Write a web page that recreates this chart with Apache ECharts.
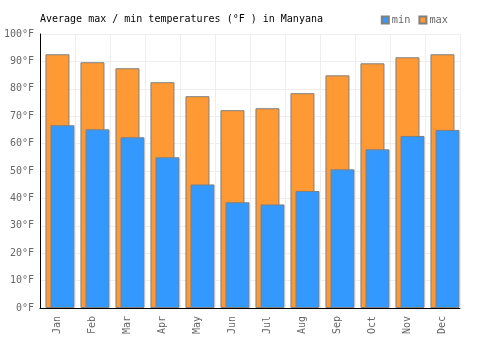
<!DOCTYPE html>
<html>
<head>
<meta charset="utf-8">
<script src="https://cdn.jsdelivr.net/npm/echarts@6/dist/echarts.min.js"></script>
<style>
  html, body { margin: 0; padding: 0; background: #fff; }
  #chart { width: 500px; height: 350px; }
</style>
</head>
<body>
<div id="chart"></div>
<script>
var months = ['Jan', 'Feb', 'Mar', 'Apr', 'May', 'Jun', 'Jul', 'Aug', 'Sep', 'Oct', 'Nov', 'Dec'];
var maxTemp = [92.6, 89.7, 87.5, 82.4, 77.3, 72.2, 72.9, 78.4, 84.9, 89.3, 91.5, 92.6];
var minTemp = [66.7, 65.2, 62.3, 55.0, 45.1, 38.6, 37.8, 42.7, 50.6, 57.9, 62.8, 65.0];

var font = 'DejaVu Sans Mono';
var myChart = echarts.init(document.getElementById('chart'));

var option = {
    animation: false,
    title: {
        text: 'Average max / min temperatures (°F ) in Manyana',
        left: 35,
        top: 9,
        textStyle: { fontFamily: font, fontSize: 10, fontWeight: 'normal', color: '#000' }
    },
    legend: {
        data: ['min', 'max'],
        right: 47,
        top: 10,
        itemWidth: 7,
        itemHeight: 7,
        itemGap: 8,
        icon: 'rect',
        textStyle: { fontFamily: font, fontSize: 10.3, color: '#666', padding: [0, 0, 0, -2] }
    },
    grid: { left: 40, right: 40, top: 34, bottom: 42 },
    xAxis: {
        type: 'category',
        data: months,
        axisLine: { lineStyle: { color: '#000' } },
        axisTick: { show: false },
        splitLine: { show: true, lineStyle: { color: '#eee' } },
        axisLabel: { rotate: 90, fontFamily: font, fontSize: 10, color: '#666', margin: 8 }
    },
    yAxis: {
        type: 'value',
        min: 0,
        max: 100,
        interval: 10,
        axisLine: { show: true, lineStyle: { color: '#000' } },
        axisTick: { show: false },
        splitLine: { lineStyle: { color: '#eee' } },
        axisLabel: { formatter: '{value}°F', fontFamily: font, fontSize: 10, color: '#666', margin: 6 }
    },
    series: [
        {
            name: 'max',
            type: 'bar',
            data: maxTemp,
            barWidth: 24,
            barGap: '-79%',
            itemStyle: { color: '#ff9933', borderColor: '#808080', borderWidth: 1 }
        },
        {
            name: 'min',
            type: 'bar',
            data: minTemp,
            barWidth: 24,
            itemStyle: { color: '#3399ff', borderColor: '#808080', borderWidth: 1 }
        },
        {
            name: 'pad',
            type: 'bar',
            data: months.map(function () { return '-'; }),
            barWidth: 14,
            silent: true
        }
    ]
};

myChart.setOption(option);
</script>
</body>
</html>
